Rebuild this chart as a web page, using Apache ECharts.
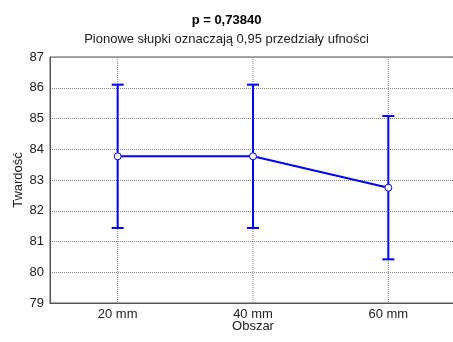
<!DOCTYPE html>
<html>
<head>
<meta charset="utf-8">
<script src="https://cdn.jsdelivr.net/npm/echarts@6/dist/echarts.min.js"></script>
<style>
  html, body { margin: 0; padding: 0; background: #fff; }
  #chart { width: 453px; height: 342px; }
</style>
</head>
<body>
<div id="chart"></div>
<script>
// Hardness by area: means with 0.95 confidence intervals
const categories = ['20 mm', '40 mm', '60 mm'];
const means = [83.77, 83.77, 82.75];
const lowerCI = [81.44, 81.44, 80.42];
const upperCI = [86.10, 86.10, 85.08];

const blue = '#0000ff';
const font = 'Liberation Sans, Arial, sans-serif';

const errorData = categories.map((c, i) => [i, lowerCI[i], upperCI[i]]);
const guideData = categories.map((c, i) => [i]);

const chart = echarts.init(document.getElementById('chart'), null, { renderer: 'canvas' });

chart.setOption({
  animation: false,
  backgroundColor: '#fff',
  title: [
    {
      text: 'p = 0,73840',
      left: 'center',
      top: 9,
      textStyle: { fontFamily: font, fontSize: 13, fontWeight: 'bold', color: '#000' }
    },
    {
      text: 'Pionowe słupki oznaczają 0,95 przedziały ufności',
      left: 'center',
      top: 28,
      textStyle: { fontFamily: font, fontSize: 13, fontWeight: 'normal', color: '#222' }
    }
  ],
  grid: {
    left: 50, right: -3, top: 57, bottom: 39,
    outerBoundsMode: 'none',
    containLabel: false,
    show: true, borderColor: '#555', borderWidth: 1, backgroundColor: 'transparent'
  },
  xAxis: {
    type: 'category',
    data: categories,
    boundaryGap: true,
    name: 'Obszar',
    nameLocation: 'middle',
    nameGap: 17,
    nameMoveOverlap: false,
    nameTextStyle: { fontFamily: font, fontSize: 13, color: '#222' },
    axisLine: { lineStyle: { color: '#555' } },
    axisTick: { show: false },
    axisLabel: { fontFamily: font, fontSize: 13, color: '#222', margin: 5 },
    splitLine: { show: false }
  },
  yAxis: {
    type: 'value',
    min: 79, max: 87, interval: 1,
    name: 'Twardość',
    nameLocation: 'middle',
    nameGap: 25,
    nameMoveOverlap: false,
    nameTextStyle: { fontFamily: font, fontSize: 13, color: '#222' },
    axisLine: { show: true, lineStyle: { color: '#555' } },
    axisTick: { show: false },
    axisLabel: { fontFamily: font, fontSize: 13, color: '#222', margin: 6 },
    splitLine: { show: true, lineStyle: { color: '#888', type: [1, 1], width: 1 } }
  },
  series: [
    {
      // vertical dotted guides at each category
      type: 'custom',
      silent: true,
      z: 1,
      data: guideData,
      renderItem: function (params, api) {
        const top = api.coord([api.value(0), 87]);
        const bottom = api.coord([api.value(0), 79]);
        return {
          type: 'line',
          shape: { x1: top[0], y1: top[1], x2: bottom[0], y2: bottom[1] },
          style: { stroke: '#888', lineWidth: 1, lineDash: [1, 1] }
        };
      }
    },
    {
      // confidence interval whiskers
      type: 'custom',
      z: 3,
      data: errorData,
      renderItem: function (params, api) {
        const x = api.value(0);
        const lo = api.coord([x, api.value(1)]);
        const hi = api.coord([x, api.value(2)]);
        const half = 6;
        const style = { stroke: blue, lineWidth: 2 };
        return {
          type: 'group',
          children: [
            { type: 'line', shape: { x1: lo[0], y1: lo[1], x2: hi[0], y2: hi[1] }, style },
            { type: 'line', shape: { x1: hi[0] - half, y1: hi[1], x2: hi[0] + half, y2: hi[1] }, style },
            { type: 'line', shape: { x1: lo[0] - half, y1: lo[1], x2: lo[0] + half, y2: lo[1] }, style }
          ]
        };
      }
    },
    {
      // mean values
      type: 'line',
      z: 4,
      data: means,
      symbol: 'circle',
      symbolSize: 7,
      showAllSymbol: true,
      lineStyle: { color: blue, width: 2 },
      itemStyle: { color: '#fff', borderColor: blue, borderWidth: 1 }
    }
  ]
});
</script>
</body>
</html>
